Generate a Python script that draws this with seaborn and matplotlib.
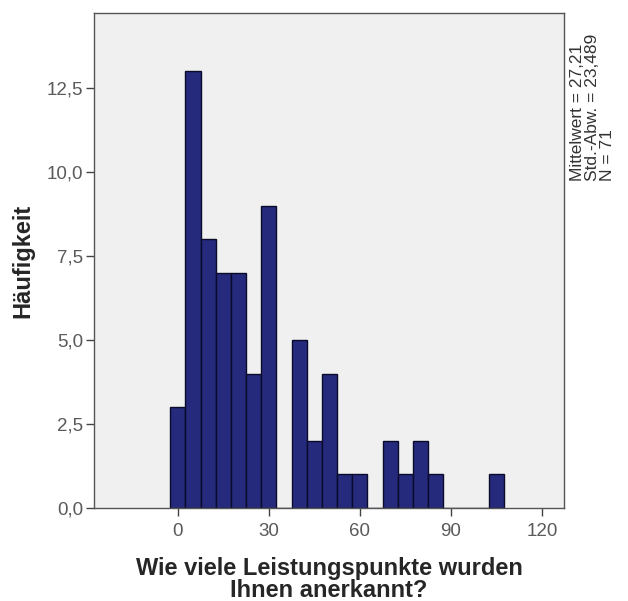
import matplotlib
matplotlib.use("Agg")
import matplotlib.pyplot as plt
import seaborn as sns
import numpy as np
import pandas as pd

# Bin centers (width 5) and counts
bin_centers = [0, 5, 10, 15, 20, 25, 30, 35, 40, 45, 50, 55, 60, 65, 70, 75, 80, 85, 90, 95, 100, 105]
counts = [3, 13, 8, 7, 7, 4, 9, 0, 5, 2, 4, 1, 1, 0, 2, 1, 2, 1, 0, 0, 0, 1]
x_ticks = [0, 30, 60, 90, 120]
y_ticks = [0.0, 2.5, 5.0, 7.5, 10.0, 12.5]
stats_lines = ["Mittelwert = 27,21", "Std.-Abw. = 23,489", "N = 71"]
x_label = "Wie viele Leistungspunkte wurden\nIhnen anerkannt?"
y_label = "Häufigkeit"

sns.set_style("ticks")
plt.rcParams['font.family'] = ['Liberation Sans', 'DejaVu Sans']

df = pd.DataFrame({"wert": bin_centers, "n": counts})

fig = plt.figure(figsize=(6.28, 6.01), dpi=100)
ax = fig.add_axes([0.1497, 0.1547, 0.7484, 0.8241])
ax.set_facecolor("#f0f0f0")

sns.histplot(data=df, x="wert", weights="n", binwidth=5, binrange=(-2.5, 107.5),
             color="#262a7c", edgecolor="#0a0a2a", linewidth=1.0, alpha=1.0, ax=ax)

ax.set_xlim(-27.6, 127.3)
ax.set_ylim(0, 14.74)
ax.set_xticks(x_ticks)
ax.set_yticks(y_ticks)
ax.set_yticklabels([f"{v:.1f}".replace(".", ",") for v in y_ticks])
ax.tick_params(axis="both", labelsize=13.5, labelcolor="#5a5a5a", color="#444444",
               length=6, width=1.0, direction="out")
ax.tick_params(axis="x", pad=5)
ax.tick_params(axis="y", pad=1.5)
for s in ax.spines.values():
    s.set_color("#555555")
    s.set_linewidth(1.0)

ax.set_xlabel(x_label, fontsize=17, fontweight="bold", linespacing=0.92, labelpad=12)
ax.set_ylabel(y_label, fontsize=17, fontweight="bold", labelpad=9)

for i, line in enumerate(stats_lines):
    fig.text(0.908 + i * 0.0235, 0.699, line, rotation=90, ha="left", va="bottom",
             fontsize=12.5, color="#333333")

fig.savefig("out.png", dpi=100)
